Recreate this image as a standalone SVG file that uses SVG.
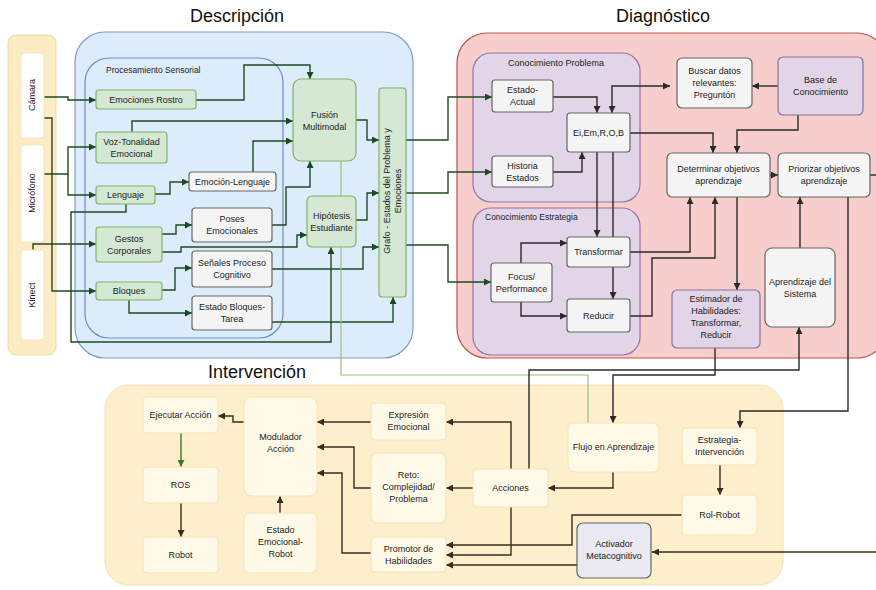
<svg xmlns="http://www.w3.org/2000/svg" width="876" height="590" viewBox="0 0 876 590">
<style>
text{font-family:"Liberation Sans",Arial,sans-serif;fill:#222;font-size:9px;text-anchor:middle}
.title{font-size:18px;fill:#111}
.lbl{font-size:8.5px;text-anchor:start}
.g{fill:#d5e8d4;stroke:#82b366;stroke-width:1.2}
.w{fill:#f5f5f5;stroke:#666;stroke-width:1.2}
.p{fill:#e1d5e7;stroke:#8a6f9c;stroke-width:1.2}
.y{fill:#fffae8;stroke:#f4e4b8;stroke-width:1}
.cg{fill:none;stroke:#1e4a22;stroke-width:1.4;marker-end:url(#ag)}
.ck{fill:none;stroke:#2a2a2a;stroke-width:1.4;marker-end:url(#ak)}
.cb{fill:none;stroke:#3a2c1e;stroke-width:1.4;marker-end:url(#ab)}
</style>
<defs>
<marker id="ag" viewBox="0 0 10 10" refX="10" refY="5" markerWidth="7" markerHeight="7" markerUnits="userSpaceOnUse" orient="auto"><path d="M0,0L10,5L0,10z" fill="#1e4a22"/></marker>
<marker id="ak" viewBox="0 0 10 10" refX="10" refY="5" markerWidth="7" markerHeight="7" markerUnits="userSpaceOnUse" orient="auto"><path d="M0,0L10,5L0,10z" fill="#2a2a2a"/></marker>
<marker id="aks" viewBox="0 0 10 10" refX="0" refY="5" markerWidth="7" markerHeight="7" markerUnits="userSpaceOnUse" orient="auto"><path d="M10,0L0,5L10,10z" fill="#2a2a2a"/></marker>
<marker id="ab" viewBox="0 0 10 10" refX="10" refY="5" markerWidth="7" markerHeight="7" markerUnits="userSpaceOnUse" orient="auto"><path d="M0,0L10,5L0,10z" fill="#3a2c1e"/></marker>
<marker id="agr" viewBox="0 0 10 10" refX="10" refY="5" markerWidth="7" markerHeight="7" markerUnits="userSpaceOnUse" orient="auto"><path d="M0,0L10,5L0,10z" fill="#3f7a26"/></marker>
</defs>

<!-- containers -->
<g id="containers">
<rect x="8" y="35" width="48" height="320" rx="8" fill="#fdebc4" stroke="#f2d9a6"/>
<rect x="75" y="32" width="338" height="326" rx="30" fill="#ddecfb" stroke="#7e9ccc" stroke-width="1.2"/>
<rect x="85" y="58" width="198" height="280" rx="24" fill="#ddecfb" stroke="#6c8ebf" stroke-width="1.2"/>
<text class="lbl" x="106" y="73">Procesamiento Sensorial</text>
<rect x="457" y="33" width="430" height="325" rx="30" fill="#f8cecc" stroke="#b85450" stroke-width="1.2"/>
<rect x="473" y="53" width="167" height="149" rx="18" fill="#e1d5e7" stroke="#9673a6" stroke-width="1.2"/>
<text x="556" y="66">Conocimiento Problema</text>
<rect x="473" y="208" width="167" height="147" rx="18" fill="#e1d5e7" stroke="#9673a6" stroke-width="1.2"/>
<text class="lbl" x="485" y="220">Conocimiento Estrategia</text>
<rect x="105" y="385" width="678" height="200" rx="24" fill="#fdefcb" stroke="#f5e2b4"/>
<text class="title" x="237" y="22">Descripción</text>
<text class="title" x="663" y="22">Diagnóstico</text>
<text class="title" x="257" y="378">Intervención</text>
</g>

<!-- connectors -->
<g id="connectors">
<path class="cg" d="M44,97H68V100H96"/>
<path class="cg" d="M44,118H52V291H96"/>
<path class="cg" d="M44,174H68V147H96"/>
<path class="cg" d="M68,174V195H96"/>
<path class="cg" d="M33,250V244H96"/>
<path class="cg" d="M126,204V212H71V342H331V247"/>
<path class="cg" d="M196,100H244V65H310V79"/>
<path class="cg" d="M132,132V121H293"/>
<path class="cg" d="M253,172V141H293"/>
<path class="cg" d="M155,194H170V182H189"/>
<path class="cg" d="M162,234H176V225H192"/>
<path class="cg" d="M162,252H181V247H297V235H307"/>
<path class="cg" d="M272,225H286V187H310V161"/>
<path class="cg" d="M162,290H175V268H192"/>
<path class="cg" d="M129,300V313H192"/>
<path class="cg" d="M272,269H363V247H379"/>
<path class="cg" d="M356,120H367V140H379"/>
<path class="cg" d="M356,220H367V193H379"/>
<path class="cg" d="M272,322H393V297"/>
<path class="cg" d="M406,140H448V97H492"/>
<path class="cg" d="M406,193H448V172H492"/>
<path class="cg" d="M406,245H448V282H491"/>
<path d="M341,161V375H588V423" fill="none" stroke="#97c47e" stroke-width="1.2"/>

<path class="ck" d="M553,97H597V113"/>
<path class="ck" d="M553,172H582V152"/>
<path class="ck" d="M670,86H612V113" marker-start="url(#aks)"/>
<path class="ck" d="M778,86H752"/>
<path class="ck" d="M630,133H713V153"/>
<path class="ck" d="M798,115V130H737V153"/>
<path class="ck" d="M597,152V237"/>
<path class="ck" d="M613,152V299"/>
<path class="ck" d="M521,263V243H567"/>
<path class="ck" d="M521,302V316H567"/>
<path class="ck" d="M630,252H690V197"/>
<path class="ck" d="M630,316H652V258H715V197"/>
<path class="ck" d="M770,175H778"/>
<path class="ck" d="M737,197V290"/>
<path class="ck" d="M800,248V197"/>
<path d="M870,175H880" fill="none" stroke="#2a2a2a" stroke-width="1.4"/>
<path class="ck" d="M848,197V411H740V428"/>
<path class="ck" d="M715,348V375H613V423"/>
<path class="ck" d="M529,469V370H799V327"/>

<path class="cb" d="M613,472V488H548"/>
<path class="cb" d="M720,465V495"/>
<path class="cb" d="M682,515H572V545H446"/>
<path class="cb" d="M511,507V555H446"/>
<path class="cb" d="M577,565H446"/>
<path class="cb" d="M880,552H652"/>
<path class="cb" d="M473,488H446"/>
<path class="cb" d="M511,469V422H446"/>
<path class="cb" d="M371,422H317"/>
<path class="cb" d="M371,488H354V447H317"/>
<path class="cb" d="M371,553H342V473H317"/>
<path class="cb" d="M280,513V496"/>
<path class="cb" d="M244,422H233V416H218"/>
<path d="M181,433V467" fill="none" stroke="#3f7a26" stroke-width="1.4" marker-end="url(#agr)"/>
<path class="cb" d="M181,503V537"/>
</g>

<!-- sensors -->
<g id="camara"><rect x="21" y="53" width="23" height="85" rx="3" fill="#fff" stroke="#f4e6c6"/><text font-size="8" transform="translate(35,95) rotate(-90)">Cámara</text></g>
<g id="microfono"><rect x="21" y="145" width="23" height="97" rx="3" fill="#fff" stroke="#f4e6c6"/><text font-size="8" transform="translate(35,193) rotate(-90)">Micrófono</text></g>
<g id="kinect"><rect x="21" y="250" width="23" height="90" rx="3" fill="#fff" stroke="#f4e6c6"/><text font-size="8" transform="translate(35,295) rotate(-90)">Kinect</text></g>

<!-- description nodes -->
<g id="emociones-rostro"><rect class="g" x="96" y="90" width="100" height="19" rx="3"/><text x="146" y="103">Emociones Rostro</text></g>
<g id="voz"><rect class="g" x="96" y="132" width="71" height="31" rx="3"/><text x="131.5" y="145">Voz-Tonalidad</text><text x="131.5" y="157">Emocional</text></g>
<g id="lenguaje"><rect class="g" x="96" y="186" width="59" height="18" rx="3"/><text x="125.5" y="198">Lenguaje</text></g>
<g id="gestos"><rect class="g" x="96" y="227" width="66" height="35" rx="3"/><text x="129" y="242">Gestos</text><text x="129" y="254">Corporales</text></g>
<g id="bloques"><rect class="g" x="96" y="282" width="66" height="18" rx="3"/><text x="129" y="294">Bloques</text></g>
<g id="emocion-lenguaje"><rect class="w" x="189" y="172" width="87" height="19" rx="3"/><text x="232.5" y="185">Emoción-Lenguaje</text></g>
<g id="poses"><rect class="w" x="192" y="208" width="80" height="34" rx="3"/><text x="232" y="222">Poses</text><text x="232" y="234">Emocionales</text></g>
<g id="senales"><rect class="w" x="192" y="251" width="80" height="36" rx="3"/><text x="232" y="266">Señales Proceso</text><text x="232" y="278">Cognitivo</text></g>
<g id="estado-bloques"><rect class="w" x="192" y="296" width="80" height="34" rx="3"/><text x="232" y="310">Estado Bloques-</text><text x="232" y="322">Tarea</text></g>
<g id="fusion"><rect class="g" x="293" y="79" width="63" height="82" rx="8"/><text x="324.5" y="118">Fusión</text><text x="324.5" y="130">Multimodal</text></g>
<g id="hipotesis"><rect class="g" x="307" y="196" width="49" height="51" rx="5"/><text x="331.5" y="219">Hipótesis</text><text x="331.5" y="231">Estudiante</text></g>
<g id="grafo"><rect class="g" x="379" y="88" width="27" height="209" rx="3"/><text font-size="9.5" transform="translate(392,191) rotate(-90)"><tspan x="0" y="-2">Grafo - Estados del Problema y</tspan><tspan x="0" y="9">Emociones</tspan></text></g>

<!-- diagnostic nodes -->
<g id="estado-actual"><rect class="w" x="492" y="80" width="61" height="32" rx="3"/><text x="522.5" y="93">Estado-</text><text x="522.5" y="105">Actual</text></g>
<g id="eiem"><rect class="w" x="567" y="113" width="63" height="39" rx="3"/><text x="598.5" y="136">Ei,Em,R,O,B</text></g>
<g id="historia"><rect class="w" x="492" y="156" width="61" height="31" rx="3"/><text x="522.5" y="169">Historia</text><text x="522.5" y="181">Estados</text></g>
<g id="transformar"><rect class="w" x="567" y="237" width="63" height="30" rx="3"/><text x="598.5" y="255">Transformar</text></g>
<g id="focus"><rect class="w" x="491" y="263" width="61" height="39" rx="3"/><text x="521.5" y="280">Focus/</text><text x="521.5" y="292">Performance</text></g>
<g id="reducir"><rect class="w" x="567" y="299" width="63" height="33" rx="3"/><text x="598.5" y="319">Reducir</text></g>
<g id="buscar"><rect class="w" x="677" y="58" width="75" height="50" rx="5"/><text x="714.5" y="74">Buscar datos</text><text x="714.5" y="86">relevantes:</text><text x="714.5" y="98">Preguntón</text></g>
<g id="base"><rect class="p" x="778" y="57" width="85" height="58" rx="5"/><text x="820.5" y="83">Base de</text><text x="820.5" y="95">Conocimiento</text></g>
<g id="determinar"><rect class="w" x="667" y="153" width="103" height="44" rx="5"/><text x="718.5" y="172">Determinar objetivos</text><text x="718.5" y="184">aprendizaje</text></g>
<g id="priorizar"><rect class="w" x="778" y="153" width="92" height="44" rx="5"/><text x="824" y="172">Priorizar objetivos</text><text x="824" y="184">aprendizaje</text></g>
<g id="aprendizaje"><rect class="w" x="765" y="248" width="70" height="79" rx="7"/><text x="800" y="285">Aprendizaje del</text><text x="800" y="297">Sistema</text></g>
<g id="estimador"><rect class="p" x="672" y="290" width="88" height="58" rx="5"/><text x="716" y="302">Estimador de</text><text x="716" y="314">Habilidades:</text><text x="716" y="326">Transformar,</text><text x="716" y="338">Reducir</text></g>

<!-- intervention nodes -->
<g id="ejecutar"><rect class="y" x="143" y="397" width="75" height="36" rx="4"/><text x="180.5" y="418">Ejecutar Acción</text></g>
<g id="ros"><rect class="y" x="143" y="467" width="75" height="36" rx="4"/><text x="180.5" y="488">ROS</text></g>
<g id="robot"><rect class="y" x="143" y="537" width="75" height="36" rx="4"/><text x="180.5" y="558">Robot</text></g>
<g id="modulador"><rect class="y" x="244" y="397" width="73" height="99" rx="8"/><text x="280.5" y="440">Modulador</text><text x="280.5" y="452">Acción</text></g>
<g id="estado-emocional"><rect class="y" x="244" y="513" width="73" height="60" rx="6"/><text x="280.5" y="533">Estado</text><text x="280.5" y="545">Emocional-</text><text x="280.5" y="557">Robot</text></g>
<g id="expresion"><rect class="y" x="371" y="403" width="75" height="37" rx="4"/><text x="408.5" y="418">Expresión</text><text x="408.5" y="430">Emocional</text></g>
<g id="reto"><rect class="y" x="371" y="453" width="75" height="70" rx="7"/><text x="408.5" y="478">Reto:</text><text x="408.5" y="490">Complejidad/</text><text x="408.5" y="502">Problema</text></g>
<g id="promotor"><rect class="y" x="371" y="537" width="75" height="35" rx="4"/><text x="408.5" y="552">Promotor de</text><text x="408.5" y="564">Habilidades</text></g>
<g id="acciones"><rect class="y" x="473" y="469" width="75" height="38" rx="4"/><text x="510.5" y="491">Acciones</text></g>
<g id="flujo"><rect class="y" x="568" y="423" width="91" height="49" rx="6"/><text x="613.5" y="450">Flujo en Aprendizaje</text></g>
<g id="estrategia"><rect class="y" x="682" y="428" width="75" height="37" rx="4"/><text x="719.5" y="443">Estrategia-</text><text x="719.5" y="455">Intervención</text></g>
<g id="rol-robot"><rect class="y" x="682" y="495" width="75" height="40" rx="4"/><text x="719.5" y="518">Rol-Robot</text></g>
<g id="activador"><rect x="577" y="523" width="74" height="55" rx="6" fill="#ebe9f3" stroke="#666" stroke-width="1.2"/><text x="614" y="547">Activador</text><text x="614" y="559">Metacognitivo</text></g>
</svg>
